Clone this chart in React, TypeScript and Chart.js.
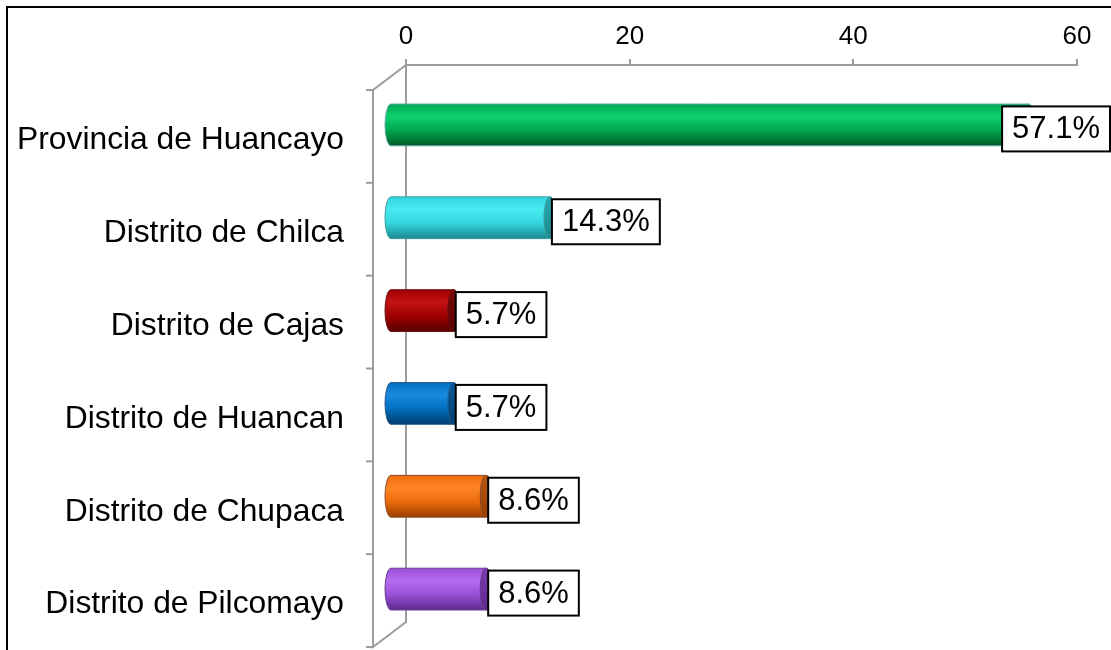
import React, { useEffect, useRef } from "react";
import { Chart, registerables } from "chart.js";

Chart.register(...registerables);

const categories = [
  "Provincia de Huancayo",
  "Distrito de Chilca",
  "Distrito de Cajas",
  "Distrito de Huancan",
  "Distrito de Chupaca",
  "Distrito de Pilcomayo",
];
const values = [57.1, 14.3, 5.7, 5.7, 8.6, 8.6];
const valueLabels = ["57.1%", "14.3%", "5.7%", "5.7%", "8.6%", "8.6%"];
const xMin = 0;
const xMax = 60;
const xStep = 20;

type Pal = { light: string; main: string; dark: string; cap: string; edge: string };
const palettes: Pal[] = [
  { light: "#10d070", main: "#00a850", dark: "#005c2a", cap: "#0a9a6a", edge: "#5aa8a8" },
  { light: "#48eaf0", main: "#33d6de", dark: "#1a8a90", cap: "#28a8ae", edge: "#3a9aa0" },
  { light: "#c41414", main: "#a00000", dark: "#5a0000", cap: "#7a0a0a", edge: "#6a1010" },
  { light: "#1a8ae0", main: "#0070c0", dark: "#003e70", cap: "#0a5a9a", edge: "#2a5a8a" },
  { light: "#ff8424", main: "#ec6c0c", dark: "#9a4000", cap: "#b85610", edge: "#8a4a2a" },
  { light: "#b46cf0", main: "#9a50d8", dark: "#5e2a90", cap: "#7a3ab0", edge: "#6a3a8a" },
];

const GRAY = "#9c9c9c";
const DEPTH_X = -33;
const DEPTH_Y = 25;
const BAR_DX = -16;
const BAR_DY = 13.5;
const FONT = "'Liberation Sans', Arial, sans-serif";

function drawCylinder(ctx: CanvasRenderingContext2D, x0: number, x1: number, cy: number, h: number, p: Pal) {
  const rx = 6;
  const ry = h / 2;
  const top = cy - ry;
  const bot = cy + ry;
  const g = ctx.createLinearGradient(0, top, 0, bot);
  g.addColorStop(0, p.main);
  g.addColorStop(0.3, p.light);
  g.addColorStop(0.62, p.main);
  g.addColorStop(1, p.dark);
  ctx.save();
  ctx.beginPath();
  ctx.moveTo(x1, top);
  ctx.lineTo(x0, top);
  ctx.ellipse(x0, cy, rx, ry, 0, -Math.PI / 2, Math.PI / 2, true);
  ctx.lineTo(x1, bot);
  ctx.ellipse(x1, cy, rx, ry, 0, Math.PI / 2, -Math.PI / 2, true);
  ctx.closePath();
  ctx.fillStyle = g;
  ctx.fill();
  ctx.lineWidth = 1;
  ctx.strokeStyle = p.edge;
  ctx.stroke();
  const gc = ctx.createLinearGradient(0, top, 0, bot);
  gc.addColorStop(0, p.cap);
  gc.addColorStop(1, p.dark);
  ctx.beginPath();
  ctx.ellipse(x1, cy, rx, ry, 0, 0, Math.PI * 2);
  ctx.fillStyle = gc;
  ctx.fill();
  ctx.stroke();
  ctx.restore();
}

const framePlugin = {
  id: "frame3d",
  beforeDraw(chart: any) {
    const ctx = chart.ctx;
    ctx.save();
    ctx.fillStyle = "#ffffff";
    ctx.fillRect(0, 0, chart.width, chart.height);
    ctx.strokeStyle = "#000000";
    ctx.lineWidth = 2;
    ctx.strokeRect(7, 7, chart.width + 50, chart.height + 50);
    ctx.restore();
  },
  beforeDatasetsDraw(chart: any) {
    const ctx = chart.ctx;
    const { left, top, bottom } = chart.chartArea;
    const fx = left + DEPTH_X;
    ctx.save();
    ctx.strokeStyle = GRAY;
    ctx.lineWidth = 2;
    ctx.beginPath();
    ctx.moveTo(left, top);
    ctx.lineTo(fx, top + DEPTH_Y);
    ctx.lineTo(fx, bottom + DEPTH_Y);
    ctx.lineTo(left, bottom);
    ctx.stroke();
    const n = categories.length;
    const band = (bottom - top) / n;
    for (let k = 0; k <= n; k++) {
      const yy = top + k * band + DEPTH_Y;
      ctx.beginPath();
      ctx.moveTo(fx - 7, yy);
      ctx.lineTo(fx, yy);
      ctx.stroke();
    }
    ctx.restore();
  },
  afterDatasetsDraw(chart: any) {
    const ctx = chart.ctx;
    const meta = chart.getDatasetMeta(0);
    meta.data.forEach((bar: any, i: number) => {
      const { x, y, base, height } = bar.getProps(["x", "y", "base", "height"], true);
      const x0 = base + BAR_DX;
      const x1 = x + BAR_DX;
      const cy = y + BAR_DY;
      drawCylinder(ctx, x0, x1, cy, height, palettes[i]);
    });
    meta.data.forEach((bar: any, i: number) => {
      const { x, y } = bar.getProps(["x", "y"], true);
      const x1 = x + BAR_DX;
      const cy = y + BAR_DY + 4;
      ctx.save();
      ctx.font = `31px ${FONT}`;
      const tw = ctx.measureText(valueLabels[i]).width;
      const bw = tw + 20;
      const bh = 45;
      let bx = x1 + 6 - 4;
      if (bx + bw > chart.width - 1) bx = chart.width - 1 - bw;
      const by = cy - bh / 2;
      ctx.fillStyle = "#ffffff";
      ctx.fillRect(bx, by, bw, bh);
      ctx.strokeStyle = "#000000";
      ctx.lineWidth = 2;
      ctx.strokeRect(bx, by, bw, bh);
      ctx.fillStyle = "#000000";
      ctx.textAlign = "center";
      ctx.textBaseline = "middle";
      ctx.fillText(valueLabels[i], bx + bw / 2, cy + 1);
      ctx.restore();
    });
  },
};

export default function App() {
  const ref = useRef<HTMLCanvasElement>(null);
  useEffect(() => {
    if (!ref.current) return;
    const chart = new Chart(ref.current, {
      type: "bar",
      data: {
        labels: categories,
        datasets: [
          {
            data: values,
            backgroundColor: "rgba(0,0,0,0)",
            borderWidth: 0,
            categoryPercentage: 1,
            barPercentage: 0.45,
          },
        ],
      },
      options: {
        indexAxis: "y",
        responsive: false,
        animation: false,
        devicePixelRatio: 1,
        layout: { padding: { left: 0, right: 34, top: 0, bottom: 28 } },
        plugins: { legend: { display: false }, tooltip: { enabled: false } },
        scales: {
          x: {
            type: "linear",
            position: "top",
            min: xMin,
            max: xMax,
            ticks: {
              stepSize: xStep,
              color: "#000000",
              font: { family: FONT, size: 26 },
              padding: 7,
            },
            grid: { drawOnChartArea: false, drawTicks: true, tickLength: 6, color: GRAY, lineWidth: 2 },
            border: { display: true, color: GRAY, width: 2 },
            afterFit: (s: any) => {
              s.height = 65;
              s.paddingLeft = 0;
              s.paddingRight = 0;
            },
          },
          y: {
            type: "category",
            ticks: {
              color: "#000000",
              font: { family: FONT, size: 31.8 },
              padding: 62,
              labelOffset: 29,
            },
            grid: { display: true, drawOnChartArea: false, drawTicks: false },
            border: { display: true, color: GRAY, width: 2 },
            afterFit: (s: any) => {
              s.width = 406;
              s.paddingTop = 0;
              s.paddingBottom = 0;
            },
          },
        },
      },
      plugins: [framePlugin],
    } as any);
    return () => chart.destroy();
  }, []);
  return (
    <div style={{ position: "fixed", left: 0, top: 0, width: 1111, height: 650 }}>
      <canvas ref={ref} width={1111} height={650} style={{ display: "block" }} />
    </div>
  );
}
